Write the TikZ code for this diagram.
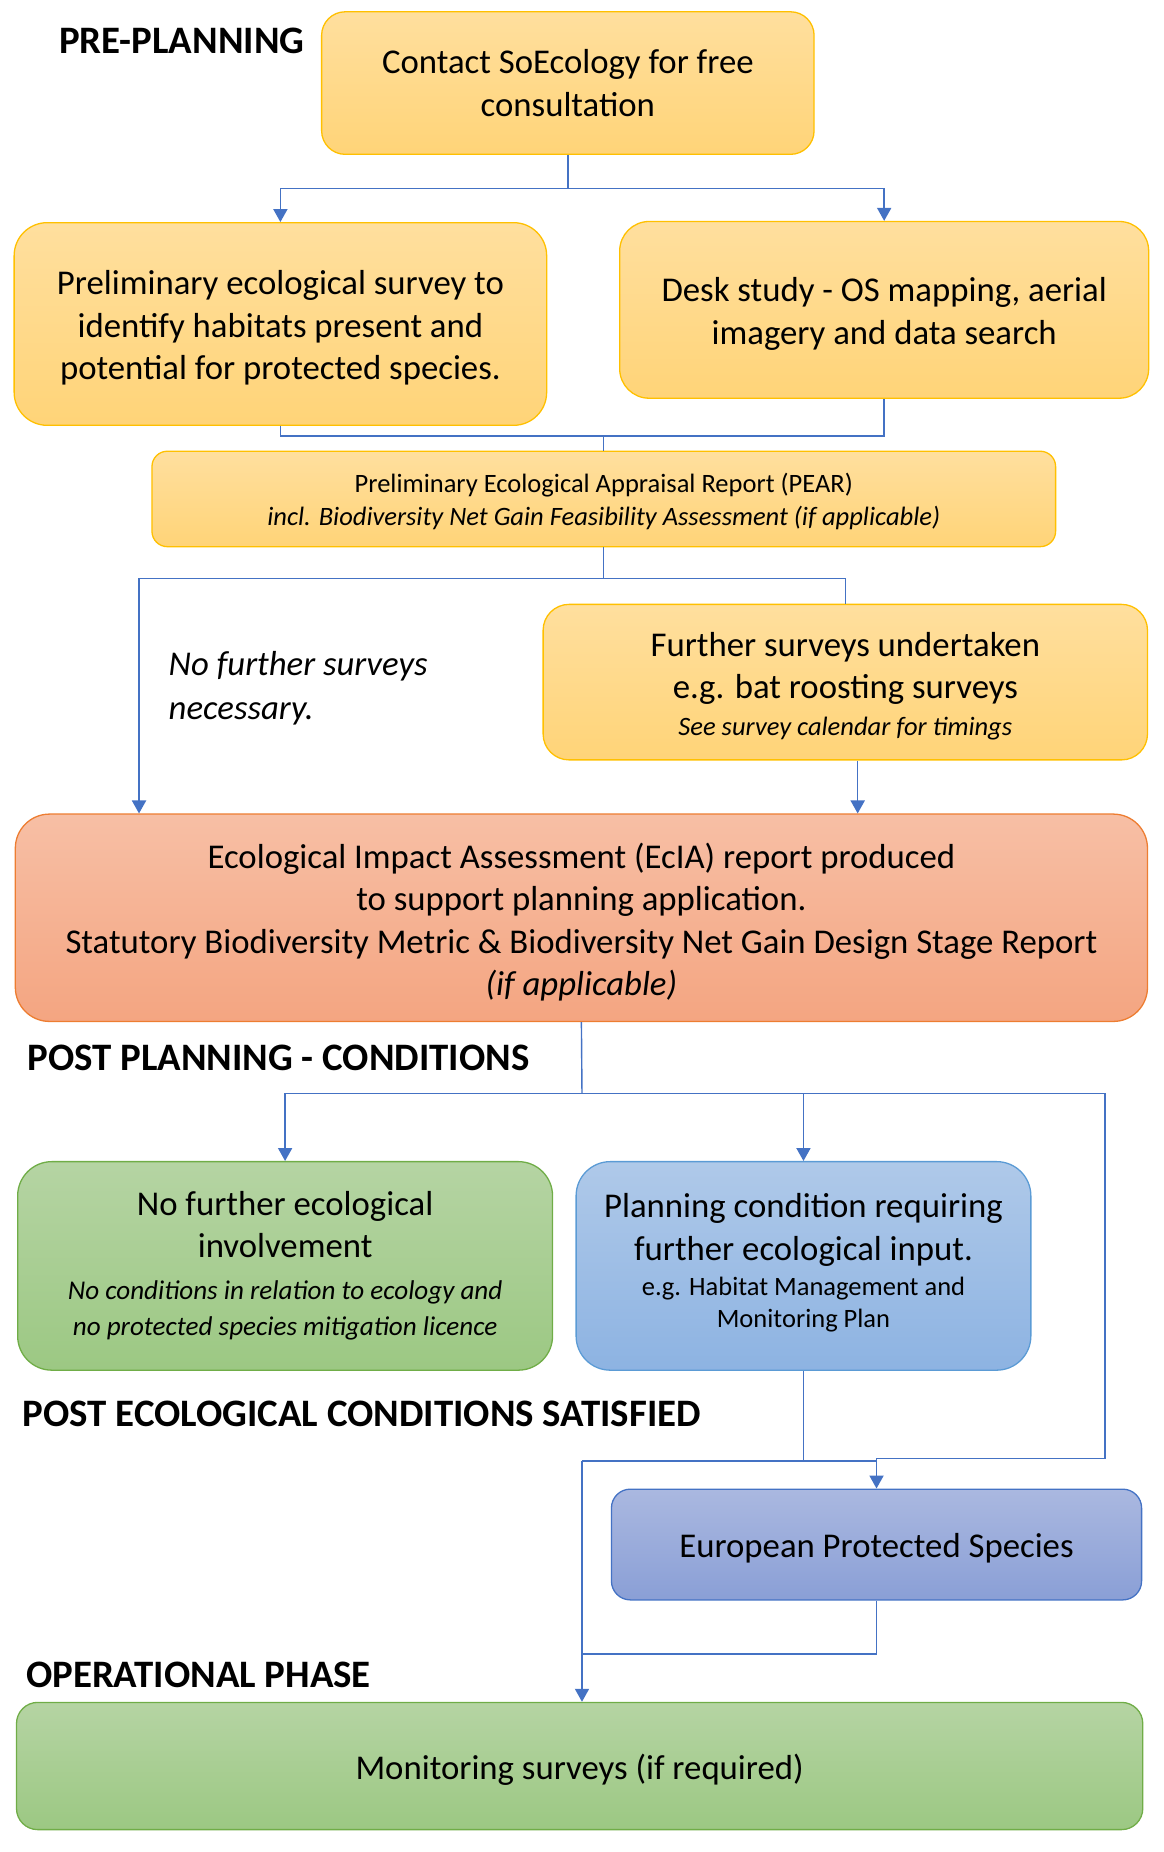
\documentclass[tikz,border=0pt]{standalone}
\usepackage{fontspec}
\setmainfont{Carlito}
\usetikzlibrary{arrows.meta}
\definecolor{lnblue}{HTML}{4472C4}
\definecolor{ylwTop}{HTML}{FFDF9E}
\definecolor{ylwBot}{HTML}{FFD478}
\definecolor{ylwLine}{HTML}{FFC000}
\definecolor{salTop}{HTML}{F7BFA5}
\definecolor{salBot}{HTML}{F4A581}
\definecolor{salLine}{HTML}{ED7D31}
\definecolor{grnTop}{HTML}{B5D4A3}
\definecolor{grnBot}{HTML}{9CC883}
\definecolor{grnLine}{HTML}{70AD47}
\definecolor{bluTop}{HTML}{AFC9E9}
\definecolor{bluBot}{HTML}{8DB3E2}
\definecolor{bluLine}{HTML}{5B9BD5}
\definecolor{purTop}{HTML}{AAB8E0}
\definecolor{purBot}{HTML}{8A9FD6}
\definecolor{purLine}{HTML}{4472C4}
\newcommand{\mainfs}{\fontsize{29.5}{36}\selectfont}
\newcommand{\smallfs}{\fontsize{22.5}{28}\selectfont}
\newcommand{\midfs}{\fontsize{23}{31}\selectfont}
\newcommand{\headfs}{\fontsize{33}{40}\selectfont\bfseries}
\newcommand{\tstrut}{\rule{0pt}{0.93em}}
\newcommand{\bstrut}{\rule[-0.4em]{0pt}{0pt}}
\tikzset{
  box/.style={draw, line width=1.1pt, align=center, inner sep=0pt, text=black, font=\mainfs},
  ylwbox/.style={box, draw=ylwLine, top color=ylwTop, bottom color=ylwBot},
  salbox/.style={box, draw=salLine, top color=salTop, bottom color=salBot},
  grnbox/.style={box, draw=grnLine, top color=grnTop, bottom color=grnBot},
  blubox/.style={box, draw=bluLine, top color=bluTop, bottom color=bluBot},
  purbox/.style={box, draw=purLine, top color=purTop, bottom color=purBot},
  conn/.style={draw=lnblue, line width=1.2pt},
  arr/.style={conn, -{Triangle[width=12pt,length=11pt]}},
  head/.style={font=\headfs, anchor=base west, inner sep=0pt},
  note/.style={font=\fontsize{29.5}{37}\selectfont\itshape, align=left, anchor=west, inner sep=0pt},
}
\begin{document}
\begin{tikzpicture}[x=1pt,y=-1pt]
\useasboundingbox (0,0) rectangle (988,1572);

% headings
\node[head] (h1) at (50,45) {PRE-PLANNING};
\node[head] (h2) at (23,909) {POST PLANNING - CONDITIONS};
\node[head] (h3) at (19,1211) {POST ECOLOGICAL CONDITIONS SATISFIED};
\node[head] (h4) at (22,1432) {OPERATIONAL PHASE};

% boxes
\node[ylwbox, minimum width=418pt, minimum height=121pt, rounded corners=20pt] (c1) at (482,70.5)
  {Contact SoEcology for free\\consultation};
\node[ylwbox, minimum width=452pt, minimum height=172pt, rounded corners=28pt] (pre) at (238,275)
  {\tstrut Preliminary ecological survey to\\identify habitats present and\\potential for protected species.};
\node[ylwbox, minimum width=449pt, minimum height=150pt, rounded corners=25pt] (desk) at (750.5,263)
  {\tstrut Desk study - OS mapping, aerial\\imagery and data search};
\node[ylwbox, font=\smallfs, minimum width=767pt, minimum height=81pt, rounded corners=13pt] (pear) at (512.5,423.5)
  {\tstrut Preliminary Ecological Appraisal Report (PEAR)\\\textit{incl. Biodiversity Net Gain Feasibility Assessment (if applicable)}};
\node[ylwbox, minimum width=513pt, minimum height=132pt, rounded corners=22pt] (further) at (717.5,579)
  {\tstrut Further surveys undertaken\\e.g. bat roosting surveys\\[-5pt]{\smallfs\itshape See survey calendar for timings}};
\node[note] (nfs) at (143,584) {No further surveys\\necessary.};
\node[salbox, minimum width=961pt, minimum height=176pt, rounded corners=29pt] (ecia) at (493.5,779)
  {\rule{0pt}{0.97em}Ecological Impact Assessment (EcIA) report produced\\to support planning application.\\Statutory Biodiversity Metric \& Biodiversity Net Gain Design Stage Report\\\textit{(if applicable)}};
\node[grnbox, minimum width=454pt, minimum height=177pt, rounded corners=29pt] (nofurther) at (242,1074.5)
  {No further ecological\\involvement\\[-1pt]{\midfs\itshape No conditions in relation to ecology and}\\[-5pt]{\midfs\itshape no protected species mitigation licence}};
\node[blubox, minimum width=386pt, minimum height=177pt, rounded corners=29pt] (plan) at (682,1074.5)
  {Planning condition requiring\\further ecological input.\\[-6pt]{\smallfs e.g. Habitat Management and}\\[-9pt]{\smallfs Monitoring Plan\bstrut}};
\node[purbox, minimum width=450pt, minimum height=94pt, rounded corners=16pt] (eps) at (744,1311)
  {\tstrut European Protected Species};
\node[grnbox, minimum width=956pt, minimum height=108pt, rounded corners=18pt] (mon) at (492,1499)
  {\tstrut Monitoring surveys (if required)};

% junction coordinates
\coordinate (j1) at (482,160);
\coordinate (j2) at (512.5,370);
\coordinate (j3) at (512.5,491);
\coordinate (l3) at (118,491);
\coordinate (f3) at (728,646);
\coordinate (j5) at (494,928);
\coordinate (r5) at (938,928);
\coordinate (r6) at (938,1238);
\coordinate (j6) at (494,1240);
\coordinate (j7) at (494,1404);

% connectors
\draw[conn] (c1.south) -- (j1);
\draw[arr] (j1) -| (pre.north);
\draw[arr] (j1) -| (desk.north);
\draw[conn] (pre.south) |- (j2);
\draw[conn] (desk.south) |- (j2);
\draw[conn] (j2) -- (pear.north);
\draw[conn] (pear.south) -- (j3);
\draw[conn] (j3) -- (l3);
\draw[arr] (l3) -- (l3 |- ecia.north);
\draw[conn] (j3) -| (further.north);
\draw[arr] (f3) -- (f3 |- ecia.north);
\draw[conn] (ecia.south) -- (j5);
\draw[arr] (j5) -| (nofurther.north);
\draw[arr] (j5) -| (plan.north);
\draw[conn] (j5) -- (r5) -- (r6);
\draw[arr] (r6) -| (eps.north);
\draw[conn] (plan.south) |- (j6);
\draw[conn] (j6) -- (j6 -| eps.north);
\draw[conn] (eps.south) |- (j7);
\draw[arr] (j6) -- (j6 |- mon.north);
\end{tikzpicture}
\end{document}
